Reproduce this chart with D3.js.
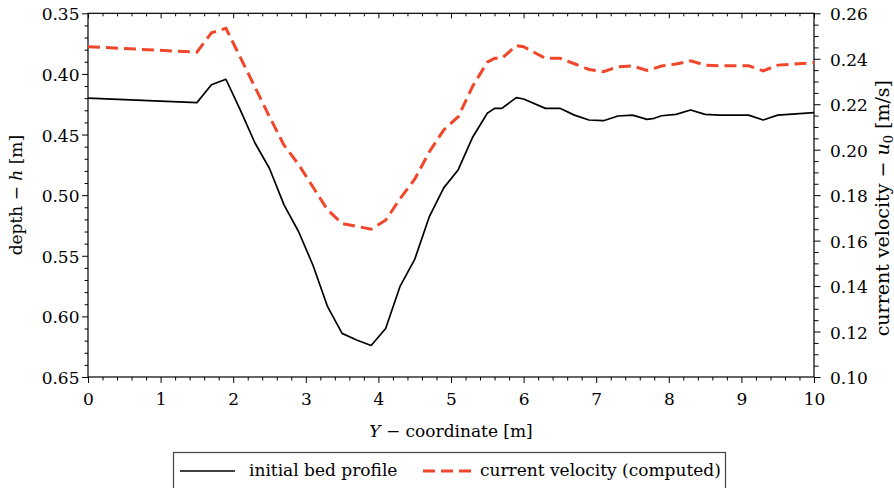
<!DOCTYPE html>
<html>
<head>
<meta charset="utf-8">
<script src="https://cdn.jsdelivr.net/npm/d3@7"></script>
<style>
  html, body { margin: 0; padding: 0; background: #fff; }
  svg text { font-family: "DejaVu Serif", serif; fill: #000; }
</style>
</head>
<body>
<svg id="chart" width="894" height="488"></svg>
<script>
// Cross-stream coordinate Y [m]
const yCoord = [0, 1.5, 1.7, 1.9, 2.1, 2.3, 2.5, 2.7, 2.9, 3.1, 3.3, 3.5, 3.7, 3.9, 4.1, 4.3, 4.5, 4.7, 4.9,
  5.1, 5.3, 5.5, 5.6, 5.7, 5.9, 6.0, 6.3, 6.5, 6.7, 6.9, 7.1, 7.3, 7.5, 7.7, 7.8, 7.9, 8.1, 8.3, 8.5, 8.7,
  9.1, 9.3, 9.5, 10];
// Initial bed profile: water depth h [m]
const depth = [0.420, 0.4237, 0.409, 0.4044, 0.430, 0.457, 0.478, 0.508, 0.530, 0.558, 0.592, 0.614, 0.6195, 0.624,
  0.610, 0.575, 0.553, 0.518, 0.494, 0.479, 0.452, 0.4325, 0.4284, 0.4284, 0.4196, 0.4207, 0.4284, 0.4284,
  0.434, 0.438, 0.4386, 0.4347, 0.434, 0.4375, 0.4366, 0.4345, 0.4334, 0.4298, 0.4334, 0.434, 0.434, 0.438,
  0.434, 0.432];
// Computed current velocity u0 [m/s]
const velocity = [0.2453, 0.2429, 0.2514, 0.2534, 0.2405, 0.2275, 0.2145, 0.202, 0.1935, 0.1835, 0.1735, 0.1675,
  0.1663, 0.165, 0.169, 0.1785, 0.187, 0.199, 0.2087, 0.2145, 0.228, 0.2385, 0.2402, 0.2402, 0.2458, 0.2453,
  0.2402, 0.2402, 0.2378, 0.2353, 0.2343, 0.2365, 0.2368, 0.2349, 0.2358, 0.2368, 0.2377, 0.2391, 0.2372,
  0.2369, 0.2369, 0.2347, 0.2372, 0.2383];

const xTicks = d3.range(0, 11, 1);
const depthTicks = [0.35, 0.40, 0.45, 0.50, 0.55, 0.60, 0.65];
const velTicks = [0.10, 0.12, 0.14, 0.16, 0.18, 0.20, 0.22, 0.24, 0.26];
const seriesNames = ["initial bed profile", "current velocity (computed)"];

const RED = "#f0472b";
const svg = d3.select("#chart");
const plotL = 88, plotR = 814, plotT = 13.3, plotB = 377;

const x = d3.scaleLinear().domain([0, 10]).range([plotL, plotR]);
const yDepth = d3.scaleLinear().domain([0.35, 0.65]).range([plotT, plotB]);
const yVel = d3.scaleLinear().domain([0.10, 0.26]).range([plotB, plotT]);

const minorX = d3.range(0, 10.001, 0.2).filter(v => Math.abs(v - Math.round(v)) > 1e-6);
const minorDepth = d3.range(0.35, 0.6501, 0.01).filter(v => !depthTicks.some(t => Math.abs(t - v) < 1e-6));
const minorVel = d3.range(0.10, 0.2601, 0.005).filter(v => !velTicks.some(t => Math.abs(t - v) < 1e-6));

function styleAxis(g) {
  g.select(".domain").remove();
  g.selectAll("line").attr("stroke", "#000").attr("stroke-width", 1);
  g.selectAll("text").style("font-family", "DejaVu Serif, serif").style("font-size", "17px");
}

// bottom axis (ticks outward)
svg.append("g").attr("transform", `translate(0,${plotB})`)
  .call(d3.axisBottom(x).tickValues(xTicks).tickFormat(d3.format("d")).tickSize(6).tickPadding(10))
  .call(styleAxis);
svg.append("g").attr("transform", `translate(0,${plotB})`)
  .call(d3.axisBottom(x).tickValues(minorX).tickFormat("").tickSize(3.5))
  .call(styleAxis);
// top axis (ticks inward)
svg.append("g").attr("transform", `translate(0,${plotT})`)
  .call(d3.axisBottom(x).tickValues(xTicks).tickFormat("").tickSize(5))
  .call(styleAxis);
svg.append("g").attr("transform", `translate(0,${plotT})`)
  .call(d3.axisBottom(x).tickValues(minorX).tickFormat("").tickSize(3))
  .call(styleAxis);

// left axis: depth
svg.append("g").attr("transform", `translate(${plotL},0)`)
  .call(d3.axisLeft(yDepth).tickValues(depthTicks).tickFormat(d3.format(".2f")).tickSize(6).tickPadding(2.5))
  .call(styleAxis)
  .selectAll("text").attr("dy", "0.38em");
svg.append("g").attr("transform", `translate(${plotL},0)`)
  .call(d3.axisLeft(yDepth).tickValues(minorDepth).tickFormat("").tickSize(3.5))
  .call(styleAxis);

// right axis: velocity
svg.append("g").attr("transform", `translate(${plotR},0)`)
  .call(d3.axisRight(yVel).tickValues(velTicks).tickFormat(d3.format(".2f")).tickSize(6.5).tickPadding(9.5))
  .call(styleAxis)
  .selectAll("text").attr("dy", "0.38em");
svg.append("g").attr("transform", `translate(${plotR},0)`)
  .call(d3.axisRight(yVel).tickValues(minorVel).tickFormat("").tickSize(4.5))
  .call(styleAxis);

// plot frame
svg.append("rect")
  .attr("x", plotL).attr("y", plotT)
  .attr("width", plotR - plotL).attr("height", plotB - plotT)
  .attr("fill", "none").attr("stroke", "#000").attr("stroke-width", 1.2);

const idx = d3.range(yCoord.length);

// velocity (dashed, right axis)
svg.append("path")
  .attr("d", d3.line().x(i => x(yCoord[i])).y(i => yVel(velocity[i]))(idx))
  .attr("fill", "none").attr("stroke", RED).attr("stroke-width", 3)
  .attr("stroke-dasharray", "12,6");

// bed profile (solid, left axis)
svg.append("path")
  .attr("d", d3.line().x(i => x(yCoord[i])).y(i => yDepth(depth[i]))(idx))
  .attr("fill", "none").attr("stroke", "#000").attr("stroke-width", 1.7)
  .attr("stroke-linejoin", "round");

// axis titles
const xt = svg.append("text").attr("x", (plotL + plotR) / 2).attr("y", 437)
  .attr("text-anchor", "middle").style("font-size", "17px");
xt.append("tspan").style("font-style", "italic").text("Y");
xt.append("tspan").text(" \u2212 coordinate [m]");

const lt = svg.append("text")
  .attr("transform", `translate(21.5,${(plotT + plotB) / 2}) rotate(-90)`)
  .attr("text-anchor", "middle").style("font-size", "17px");
lt.append("tspan").text("depth \u2212 ");
lt.append("tspan").style("font-style", "italic").text("h");
lt.append("tspan").text(" [m]");

const rt = svg.append("text")
  .attr("transform", `translate(888.5,${(plotT + plotB) / 2 + 13}) rotate(-90)`)
  .attr("text-anchor", "middle").style("font-size", "19px");
rt.append("tspan").text("current velocity \u2212 ");
rt.append("tspan").style("font-style", "italic").text("u");
rt.append("tspan").attr("dy", 4).style("font-size", "13px").text("0");
rt.append("tspan").attr("dy", -4).text(" [m/s]");

// legend
const lg = svg.append("g");
lg.append("rect").attr("x", 173.5).attr("y", 452.5).attr("width", 552).attr("height", 50)
  .attr("fill", "#fff").attr("stroke", "#444").attr("stroke-width", 1.2);
lg.append("line").attr("x1", 180).attr("x2", 235).attr("y1", 471).attr("y2", 471)
  .attr("stroke", "#000").attr("stroke-width", 1.7);
lg.append("text").attr("x", 249).attr("y", 476).style("font-size", "17px").text(seriesNames[0]);
lg.append("line").attr("x1", 423).attr("x2", 472).attr("y1", 471).attr("y2", 471)
  .attr("stroke", RED).attr("stroke-width", 3).attr("stroke-dasharray", "12,6");
lg.append("text").attr("x", 480).attr("y", 476).style("font-size", "17px").text(seriesNames[1]);
</script>
</body>
</html>
